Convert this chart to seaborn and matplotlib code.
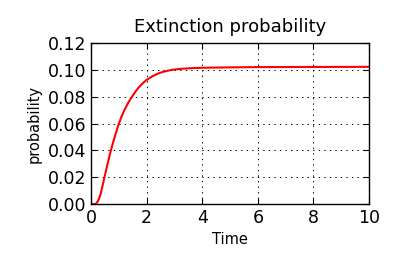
import matplotlib
matplotlib.use("Agg")
import matplotlib.pyplot as plt
import seaborn as sns
import pandas as pd

time = [0.0, 0.1, 0.16, 0.2, 0.25, 0.3, 0.35, 0.4, 0.45, 0.5, 0.55, 0.6, 0.65, 0.7, 0.75,
        0.8, 0.85, 0.9, 0.95, 1.0, 1.1, 1.2, 1.3, 1.4, 1.5, 1.6, 1.7, 1.8, 1.9, 2.0,
        2.2, 2.4, 2.6, 2.8, 3.0, 3.3, 3.6, 4.0, 5.0, 6.0, 8.0, 10.0]
probability = [0.0, 0.0, 0.0, 0.0006, 0.0022, 0.0045, 0.0078, 0.0122, 0.0167, 0.0213, 0.0258,
               0.0302, 0.0345, 0.0387, 0.0426, 0.0463, 0.0498, 0.0532, 0.0565, 0.0597, 0.0652,
               0.0699, 0.0740, 0.0776, 0.0807, 0.0838, 0.0865, 0.0888, 0.0908, 0.0925,
               0.0952, 0.0972, 0.0986, 0.0996, 0.1003, 0.1009, 0.1013, 0.1016, 0.1019,
               0.1021, 0.1022, 0.1023]
x_ticks = [0, 2, 4, 6, 8, 10]
y_ticks = [0.00, 0.02, 0.04, 0.06, 0.08, 0.10, 0.12]

df = pd.DataFrame({"Time": time, "probability": probability})

sns.set_style("ticks")
plt.rcParams['font.family'] = ['DejaVu Sans']
plt.rcParams['text.color'] = 'black'
plt.rcParams['axes.labelcolor'] = 'black'
plt.rcParams['xtick.color'] = 'black'
plt.rcParams['ytick.color'] = 'black'

fig = plt.figure(figsize=(3.99, 2.66), dpi=100)
ax = fig.add_axes([0.228, 0.233, 0.697, 0.605])
sns.lineplot(data=df, x="Time", y="probability", color="red", linewidth=1.5, ax=ax)
ax.set_xlim(0, 10)
ax.set_ylim(0, 0.12)
ax.set_xticks(x_ticks)
ax.set_yticks(y_ticks)
ax.set_yticklabels([f"{v:.2f}" for v in y_ticks])
ax.grid(True, color="black", linestyle=(0, (1.4, 4.3)), linewidth=0.7)
ax.tick_params(direction="in", labelsize=12.5, length=4, color="black",
               labelcolor="black", top=True, right=True)
for s in ax.spines.values():
    s.set_color("black")
    s.set_linewidth(1.0)
ax.set_title("Extinction probability", fontsize=13, color="black", pad=8)
ax.set_xlabel("Time", fontsize=10.5, color="black")
ax.set_ylabel("probability", fontsize=10.5, color="black")
fig.savefig("out.png", dpi=100)
